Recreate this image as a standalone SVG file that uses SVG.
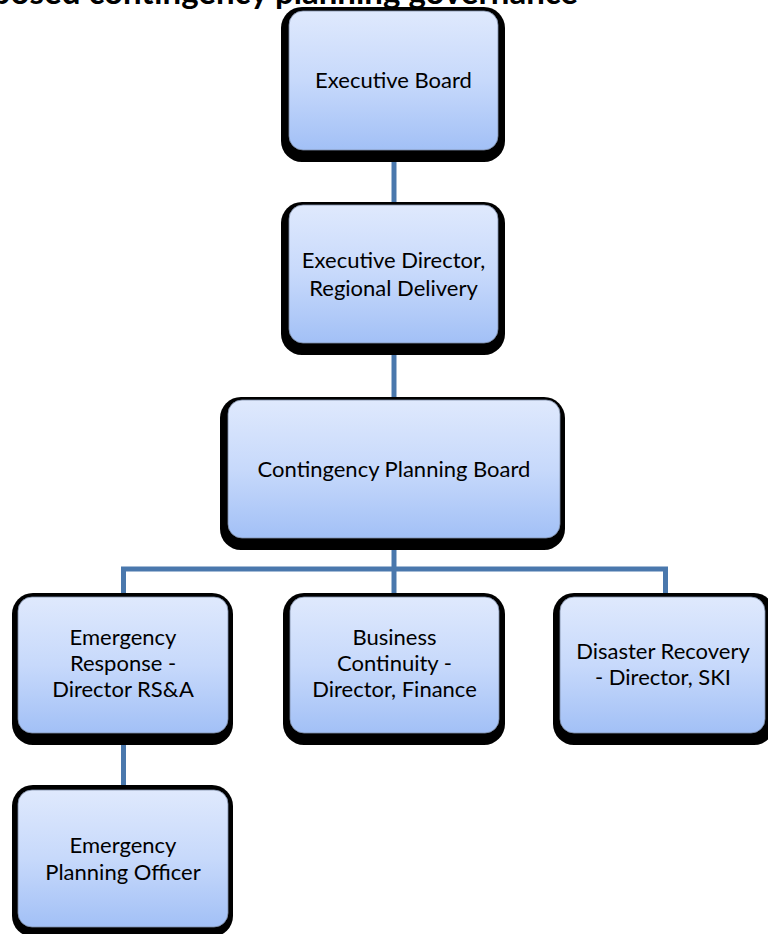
<svg xmlns="http://www.w3.org/2000/svg" width="768" height="934" viewBox="0 0 768 934">
  <defs>
    <linearGradient id="boxFill" x1="0" y1="0" x2="0" y2="1">
      <stop offset="0" stop-color="#dfe9fd"/>
      <stop offset="0.5" stop-color="#c7d9fb"/>
      <stop offset="1" stop-color="#a2c0f6"/>
    </linearGradient>
    <filter id="soft" x="-5%" y="-5%" width="110%" height="110%">
      <feGaussianBlur stdDeviation="0.7"/>
    </filter>
    <style>
      .shadow { fill: #000; filter: url(#soft); }
      .face { fill: url(#boxFill); stroke: #7f8ea8; stroke-width: 0.8; }
      .label { font-family: Lato, "Liberation Sans", sans-serif; font-size: 22px; fill: #000; text-anchor: middle; }
      .title { font-family: Lato, "Liberation Sans", sans-serif; font-size: 33px; font-weight: bold; fill: #000; }
      .link { fill: none; stroke: #4a78ad; stroke-width: 5; stroke-linejoin: miter; }
    </style>
  </defs>
  <rect width="768" height="934" fill="#ffffff"/>

  <!-- heading, mostly above the page edge -->
  <text class="title" x="578" y="4" text-anchor="end">Proposed contingency planning governance</text>

  <g id="connectors">
    <path class="link" d="M394,150 V205"/>
    <path class="link" d="M394,343 V400"/>
    <path class="link" d="M394,538 V596"/>
    <path class="link" d="M123.5,596 V569 H665.5 V596"/>
    <path class="link" d="M123.5,733 V790"/>
  </g>

  <g id="executive-board">
    <rect class="shadow" x="281" y="7" width="224" height="155" rx="21"/>
    <rect class="face" x="289" y="11" width="209" height="139" rx="14"/>
    <text class="label" x="393.5" y="88">Executive Board</text>
  </g>

  <g id="executive-director">
    <rect class="shadow" x="281" y="202" width="224" height="153" rx="21"/>
    <rect class="face" x="289" y="205" width="209" height="138" rx="14"/>
    <text class="label" x="393.5" y="268">Executive Director,</text>
    <text class="label" x="393.5" y="296">Regional Delivery</text>
  </g>

  <g id="contingency-planning-board">
    <rect class="shadow" x="220" y="397" width="345" height="153" rx="21"/>
    <rect class="face" x="228" y="400" width="332" height="138" rx="14"/>
    <text class="label" x="394" y="477">Contingency Planning Board</text>
  </g>

  <g id="emergency-response">
    <rect class="shadow" x="12" y="593" width="221" height="152" rx="21"/>
    <rect class="face" x="18" y="597" width="210" height="136" rx="14"/>
    <text class="label" x="123" y="645">Emergency</text>
    <text class="label" x="123" y="671">Response -</text>
    <text class="label" x="123" y="697">Director RS&amp;A</text>
  </g>

  <g id="business-continuity">
    <rect class="shadow" x="283" y="593" width="222" height="152" rx="21"/>
    <rect class="face" x="290" y="597" width="209" height="136" rx="14"/>
    <text class="label" x="394.5" y="645">Business</text>
    <text class="label" x="394.5" y="671">Continuity -</text>
    <text class="label" x="394.5" y="697">Director, Finance</text>
  </g>

  <g id="disaster-recovery">
    <rect class="shadow" x="553" y="593" width="222" height="152" rx="21"/>
    <rect class="face" x="560" y="597" width="205" height="136" rx="14"/>
    <text class="label" x="663" y="659">Disaster Recovery</text>
    <text class="label" x="663" y="685">- Director, SKI</text>
  </g>

  <g id="emergency-planning-officer">
    <rect class="shadow" x="12" y="785" width="221" height="152" rx="21"/>
    <rect class="face" x="18" y="790" width="210" height="137" rx="14"/>
    <text class="label" x="123" y="853">Emergency</text>
    <text class="label" x="123" y="880">Planning Officer</text>
  </g>
</svg>
